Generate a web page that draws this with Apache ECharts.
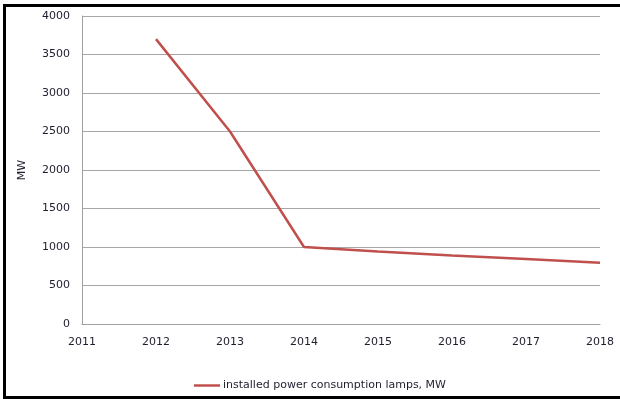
<!DOCTYPE html>
<html>
<head>
<meta charset="utf-8">
<script src="https://cdn.jsdelivr.net/npm/echarts@6/dist/echarts.min.js"></script>
<style>
  html, body { margin: 0; padding: 0; background: #fff; overflow: hidden; }
  #chart { width: 620px; height: 399px; }
</style>
</head>
<body>
<div id="chart"></div>
<script>
// Years on the horizontal axis
const years = ['2011', '2012', '2013', '2014', '2015', '2016', '2017', '2018'];
// Installed power of consumption lamps, MW ('-' = no value for that year)
const lampPower = ['-', 3700, 2500, 1000, 940, 890, 845, 795];
const seriesName = 'installed power consumption lamps, MW';
const axisName = 'MW';

const textFont = 'DejaVu Sans';
const textColor = '#1e1e2e';
const lineColor = '#c0504d';

const chart = echarts.init(document.getElementById('chart'), null, { renderer: 'canvas' });
chart.setOption({
  animation: false,
  backgroundColor: '#fff',
  grid: { left: 82, right: 20, top: 16, bottom: 75, containLabel: false },
  xAxis: {
    type: 'category',
    data: years,
    boundaryGap: false,
    axisLine: { show: true, lineStyle: { color: '#a0a0a0', width: 1 } },
    axisTick: { show: false },
    axisLabel: { color: textColor, fontFamily: textFont, fontSize: 11, margin: 13 },
    splitLine: { show: false }
  },
  yAxis: {
    type: 'value',
    min: 0, max: 4000, interval: 500,
    name: axisName,
    nameLocation: 'middle',
    nameRotate: 90,
    nameGap: 54,
    nameTextStyle: { color: textColor, fontFamily: textFont, fontSize: 11 },
    axisLine: { show: true, lineStyle: { color: '#a0a0a0', width: 1 } },
    axisTick: { show: false },
    axisLabel: {
      color: textColor, fontFamily: textFont, fontSize: 11, margin: 12,
      formatter: v => String(v)
    },
    splitLine: { show: true, lineStyle: { color: '#a6a6a6', width: 1 } }
  },
  legend: {
    left: 189, top: 375,
    icon: 'rect',
    itemWidth: 26, itemHeight: 2.5,
    itemGap: 10,
    textStyle: { color: textColor, fontFamily: textFont, fontSize: 11, padding: [0, 0, 0, -2] },
    data: [seriesName]
  },
  series: [{
    name: seriesName,
    type: 'line',
    data: lampPower,
    symbol: 'none',
    lineStyle: { color: lineColor, width: 2.5 },
    itemStyle: { color: lineColor }
  }],
  // Frame: left, top and bottom edges
  graphic: [
    { type: 'line', silent: true, shape: { x1: 4.5, y1: 4, x2: 4.5, y2: 399 }, style: { stroke: '#000', lineWidth: 3 } },
    { type: 'line', silent: true, shape: { x1: 3, y1: 5.5, x2: 620, y2: 5.5 }, style: { stroke: '#000', lineWidth: 3 } },
    { type: 'line', silent: true, shape: { x1: 3, y1: 397.5, x2: 620, y2: 397.5 }, style: { stroke: '#000', lineWidth: 3 } }
  ]
});
</script>
</body>
</html>
